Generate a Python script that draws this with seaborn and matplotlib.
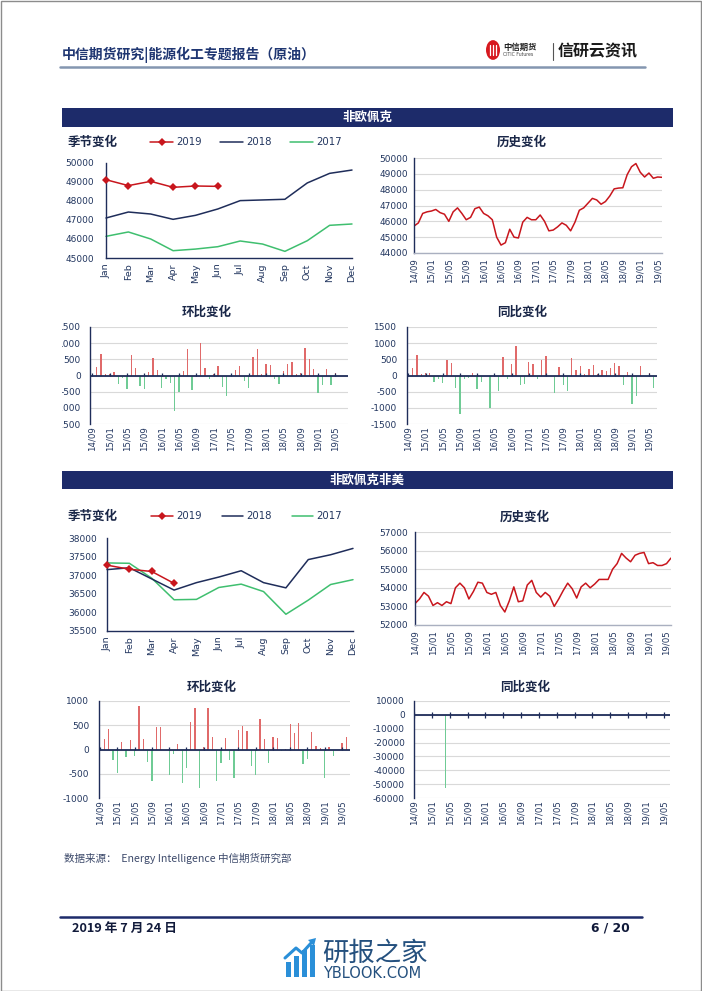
import matplotlib
matplotlib.use("Agg")
import matplotlib.pyplot as plt
import numpy as np
import seaborn as sns
from matplotlib.lines import Line2D
from matplotlib.patches import Rectangle, Circle, Polygon

W, H = 702, 991

MONTHS = ["Jan", "Feb", "Mar", "Apr", "May", "Jun",
          "Jul", "Aug", "Sep", "Oct", "Nov", "Dec"]
DATE_LABELS = ["14/09", "15/01", "15/05", "15/09", "16/01", "16/05", "16/09", "17/01",
               "17/05", "17/09", "18/01", "18/05", "18/09", "19/01", "19/05"]
YEARS = ["2019", "2018", "2017"]

# 非欧佩克
nonopec_2019 = [49120, 48810, 49035, 48720, 48790, 48770]
nonopec_2018 = [47105, 47420, 47315, 47035, 47245, 47580, 48020, 48055, 48090, 48950, 49455, 49630]
nonopec_2017 = [46140, 46370, 46000, 45385, 45470, 45595, 45895, 45735, 45350, 45910, 46720, 46790]
nonopec_hist = [45700, 45900, 46500, 46600, 46650, 46750, 46550, 46450, 46000, 46600,
                46850, 46500, 46100, 46250, 46800, 46900, 46500, 46350, 46100, 45000,
                44500, 44650, 45500, 45000, 44950, 45950, 46250, 46100, 46100, 46400,
                46000, 45400, 45450, 45650, 45900, 45750, 45400, 45950, 46700, 46850,
                47150, 47450, 47350, 47080, 47250, 47600, 48050, 48100, 48120, 48950,
                49450, 49650, 49100, 48800, 49050, 48720, 48800, 48780]
nonopec_mom = [0, 250, 650, 50, 60, 100, -250, -80, -430, 620,
               230, -330, -420, 110, 550, 160, -400, -110, -230, -1100,
               -520, 130, 830, -450, -60, 1020, 230, -120, 60, 280,
               -350, -620, 50, 170, 280, -170, -380, 560, 810, 50,
               350, 330, -100, -270, 150, 360, 430, 40, 80, 840,
               510, 190, -530, -280, 190, -300, 80, -20]
nonopec_yoy = [0, 220, 620, 50, 80, 80, -200, -100, -230, 470,
               380, -400, -1180, -120, -80, 70, -430, -200, 0, -1000,
               60, -480, 580, -120, 370, 900, -280, -260, 420, 370,
               -100, 470, 600, 0, -550, 250, -300, -470, 550, 160,
               300, 60, 200, 330, 60, 180, 150, 230, 390, 280,
               -300, 100, -870, -620, 300, 0, 80, -380]

# 非欧佩克非美
nonus_2019 = [37270, 37160, 37100, 36780]
nonus_2018 = [37150, 37200, 36900, 36600, 36800, 36950, 37120, 36800, 36660, 37420, 37550, 37720]
nonus_2017 = [37330, 37320, 36920, 36340, 36350, 36670, 36760, 36560, 35950, 36330, 36750, 36880]
nonus_hist = [53150, 53400, 53750, 53550, 53050, 53200, 53050, 53250, 53150, 54000,
              54250, 54000, 53400, 53800, 54300, 54250, 53750, 53650, 53750, 53050,
              52700, 53300, 54050, 53250, 53300, 54150, 54400, 53750, 53500, 53750,
              53550, 53000, 53400, 53850, 54250, 53950, 53450, 54050, 54250, 54000,
              54200, 54450, 54450, 54450, 55000, 55300, 55850, 55600, 55400, 55750,
              55850, 55900, 55300, 55350, 55200, 55200, 55300, 55600]
nonus_mom = [0, 210, 420, -210, -490, 160, -150, 190, -130, 900,
             210, -250, -650, 460, 470, 0, -520, -100, 110, -700,
             -380, 560, 860, -800, 50, 850, 260, -640, -270, 240,
             -220, -580, 400, 490, 390, -330, -530, 630, 210, -280,
             250, 230, -40, 20, 520, 330, 550, -300, -190, 370,
             70, 40, -590, 50, -140, -20, 140, 250]
nonus_yoy = [0, 0, 0, 0, 0, 0, 0, -52900, 0, 0,
             0, 0, 0, 0, 0, 0, 0, 0, 0, 0,
             0, 0, 0, 0, 0, 0, 0, 0, 0, 0,
             0, 0, 0, 0, 0, 0, 0, 0, 0, 0,
             0, 0, 0, 0, 0, 0, 0, 0, 0, 0,
             0, 0, 0, 0, 0, 0, 0, 0]

NAVY = "#1f2d5a"
TICK = "#22365f"
BAR_NAVY = "#1d2b6a"
RED = "#c8161d"
GREEN = "#3fbf6f"
POS = "#e06a6a"
NEG = "#6fcb95"
GRID = "#d9d9d9"
CJK = ["Noto Sans CJK SC", "DejaVu Sans"]

sns.set_style("white")
plt.rcParams["font.family"] = ["DejaVu Sans", "Noto Sans CJK SC"]


def fx(x):
    return x / W


def fy(y):
    return 1 - y / H


def px_axes(fig, x0, y0, x1, y1):
    return fig.add_axes([x0 / W, 1 - y1 / H, (x1 - x0) / W, (y1 - y0) / H])


def style_axes(ax, yticks, grid, bottom, ypad):
    ax.set_ylim(yticks[0], yticks[-1])
    ax.set_yticks(yticks)
    ax.set_yticklabels([f"{v:d}" for v in yticks])
    ax.set_facecolor("none")
    for s in ["top", "right"]:
        ax.spines[s].set_visible(False)
    ax.spines["left"].set_color(NAVY)
    ax.spines["left"].set_linewidth(1.0)
    ax.spines["bottom"].set_visible(bottom)
    ax.spines["bottom"].set_color(NAVY)
    ax.spines["bottom"].set_linewidth(1.0)
    ax.tick_params(axis="both", labelcolor=TICK, labelsize=6.5, length=2.5, width=0.8,
                   color=NAVY, pad=1.5, direction="out")
    ax.tick_params(axis="y", pad=ypad)
    ax.set_xlabel("")
    ax.set_ylabel("")
    if grid:
        ax.grid(axis="y", color=GRID, linewidth=0.8)
        ax.set_axisbelow(True)


def date_axis(ax, n):
    ax.set_xticks(np.arange(0, n, 4))
    ax.set_xticklabels(DATE_LABELS, rotation=90, fontsize=6.2)


def seasonal_panel(fig, rect, s19, s18, s17, yticks, ypad):
    ax = px_axes(fig, *rect)
    sns.lineplot(x=np.arange(len(s17)), y=s17, color=GREEN, linewidth=1.1, clip_on=False, ax=ax)
    sns.lineplot(x=np.arange(len(s18)), y=s18, color=NAVY, linewidth=1.1, clip_on=False, ax=ax)
    sns.lineplot(x=np.arange(len(s19)), y=s19, color=RED, linewidth=1.1, marker="D",
                 markersize=4.5, markeredgewidth=0, clip_on=False, zorder=5, ax=ax)
    style_axes(ax, yticks, grid=False, bottom=True, ypad=ypad)
    ax.set_xlim(0, 11)
    ax.set_xticks(np.arange(12))
    ax.set_xticklabels(MONTHS, rotation=90, fontsize=6.8)
    return ax


def history_panel(fig, rect, values, yticks, ypad):
    ax = px_axes(fig, *rect)
    sns.lineplot(x=np.arange(len(values)), y=values, color=RED, linewidth=1.1, ax=ax)
    style_axes(ax, yticks, grid=True, bottom=True, ypad=ypad)
    ax.spines["bottom"].set_color("#aab0c0")
    ax.set_xlim(0, len(values) - 1)
    date_axis(ax, len(values))
    return ax


def bar_panel(fig, rect, values, yticks, xlim, ypad, cross=False):
    ax = px_axes(fig, *rect)
    idx = np.arange(len(values))
    sign = np.where(np.array(values) >= 0, "up", "down")
    sns.barplot(x=idx, y=values, hue=sign, hue_order=["up", "down"],
                palette={"up": POS, "down": NEG}, dodge=False, width=0.3,
                native_scale=True, saturation=1, errorbar=None, legend=False,
                linewidth=0, ax=ax)
    style_axes(ax, yticks, grid=True, bottom=False, ypad=ypad)
    ax.axhline(0, color=NAVY, linewidth=1.3, zorder=3)
    stub = (yticks[-1] - yticks[0]) * 0.03
    ticks = np.arange(0, len(values), 4)
    ax.vlines(ticks, -stub if cross else 0, stub, color=NAVY, linewidth=0.9, zorder=4)
    ax.set_xlim(*xlim)
    date_axis(ax, len(values))
    ax.tick_params(axis="x", length=0)
    return ax


def panel_title(fig, x, y, text, ha="center"):
    fig.text(fx(x), fy(y), text, ha=ha, va="center", fontsize=9, fontweight="bold",
             color="#1a2748", family=CJK)


def legend_row(fig, y, items):
    for x0, x1, color, marker, label in items:
        fig.add_artist(Line2D([fx(x0), fx(x1)], [fy(y), fy(y)], color=color, linewidth=1.1))
        if marker:
            fig.add_artist(Line2D([fx((x0 + x1) / 2)], [fy(y)], color=color, marker="D",
                                  markersize=4.5, markeredgewidth=0))
        fig.text(fx(x1 + 3), fy(y), label, ha="left", va="center", fontsize=7.3, color=TICK)


def section_bar(fig, y0, y1, text):
    fig.add_artist(Rectangle((fx(62), fy(y1)), fx(673) - fx(62), fy(y0) - fy(y1),
                             transform=fig.transFigure, facecolor=BAR_NAVY, edgecolor="none"))
    fig.text(fx(367), fy((y0 + y1) / 2), text, ha="center", va="center", fontsize=9,
             fontweight="bold", color="white", family=CJK)


fig = plt.figure(figsize=(W / 100, H / 100), dpi=100)
fig.patch.set_facecolor("white")

# header
fig.text(fx(62), fy(55), "中信期货研究|能源化工专题报告（原油）", ha="left", va="center",
         fontsize=10, fontweight="bold", color="#1f3672", family=CJK)
fig.add_artist(Line2D([fx(60), fx(645)], [fy(67), fy(67)], color="#8496b0", linewidth=1.8))
fig.add_artist(Circle((fx(493), fy(50)), 7 / W, transform=fig.transFigure,
                      facecolor="#d7191f", edgecolor="none"))
for dx in (-3, 0, 3):
    fig.add_artist(Line2D([fx(493 + dx), fx(493 + dx)], [fy(45), fy(55)], color="white", linewidth=0.9))
fig.text(fx(503), fy(47.5), "中信期货", ha="left", va="center", fontsize=6, fontweight="bold",
         color="#222222", family=CJK)
fig.text(fx(503), fy(54.5), "CITIC Futures", ha="left", va="center", fontsize=3.3, color="#444444")
fig.add_artist(Line2D([fx(553), fx(553)], [fy(43), fy(60)], color="#555555", linewidth=0.8))
fig.text(fx(558), fy(51), "信研云资讯", ha="left", va="center", fontsize=11.5, fontweight="bold",
         color="#1a1a1a", family=CJK)

# 非欧佩克
section_bar(fig, 108, 127, "非欧佩克")
panel_title(fig, 68, 142, "季节变化", ha="left")
legend_row(fig, 142, [(150, 173, RED, True, YEARS[0]),
                      (220, 243, NAVY, False, YEARS[1]),
                      (290, 313, GREEN, False, YEARS[2])])
seasonal_panel(fig, (106, 163, 352, 258), nonopec_2019, nonopec_2018, nonopec_2017,
               list(range(45000, 50001, 1000)), ypad=6)
panel_title(fig, 522, 142, "历史变化")
history_panel(fig, (414, 158, 662, 253), nonopec_hist, list(range(44000, 50001, 1000)), ypad=2)
panel_title(fig, 207, 312, "环比变化")
bar_panel(fig, (90, 327, 348, 424), nonopec_mom, list(range(-1500, 1501, 500)), (-0.5, 58.9), ypad=4)
panel_title(fig, 522, 312, "同比变化")
bar_panel(fig, (407, 327, 657, 424), nonopec_yoy, list(range(-1500, 1501, 500)), (-0.3, 57.8), ypad=4.5)

# 非欧佩克非美
section_bar(fig, 471, 489, "非欧佩克非美")
panel_title(fig, 68, 516, "季节变化", ha="left")
legend_row(fig, 516, [(151, 173, RED, True, YEARS[0]),
                      (222, 243, NAVY, False, YEARS[1]),
                      (292, 313, GREEN, False, YEARS[2])])
seasonal_panel(fig, (107, 538, 353, 631), nonus_2019, nonus_2018, nonus_2017,
               list(range(35500, 38001, 500)), ypad=4.5)
panel_title(fig, 525, 517, "历史变化")
history_panel(fig, (415, 532, 671, 625), nonus_hist, list(range(52000, 57001, 1000)), ypad=2.5)
panel_title(fig, 212, 687, "环比变化")
bar_panel(fig, (99, 701, 350, 798), nonus_mom, list(range(-1000, 1001, 500)), (-0.25, 57.85), ypad=4.5)
panel_title(fig, 525, 687, "同比变化")
bar_panel(fig, (414, 701, 670, 798), nonus_yoy, list(range(-60000, 10001, 10000)), (0, 57.4),
          ypad=4, cross=True)

# the first bar panel is cropped at its left edge in the report
fig.add_artist(Rectangle((fx(1.5), fy(432)), fx(62.5) - fx(1.5), fy(318) - fy(432),
                         transform=fig.transFigure, facecolor="white", edgecolor="none", zorder=5))

# source + footer
fig.text(fx(64), fy(858), "数据来源：  Energy Intelligence 中信期货研究部", ha="left", va="center",
         fontsize=7.6, color="#3d4a6b", family=CJK)
fig.add_artist(Line2D([fx(60), fx(642)], [fy(917), fy(917)], color="#1d2b6a", linewidth=1.8))
fig.text(fx(72), fy(928), "2019 年 7 月 24 日", ha="left", va="center", fontsize=9.2,
         fontweight="bold", color="#111a3a", family=CJK)
fig.text(fx(630), fy(928), "6 / 20", ha="right", va="center", fontsize=8.8,
         fontweight="bold", color="#111a3a")

# watermark
for bx, top in [(286, 962), (294, 956), (302, 950), (310, 945)]:
    fig.add_artist(Rectangle((fx(bx), fy(977)), 5 / W, fy(top) - fy(977), transform=fig.transFigure,
                             facecolor="#2a8fd8", edgecolor="none"))
fig.add_artist(Line2D([fx(285), fx(296), fx(302), fx(312)], [fy(958), fy(948), fy(953), fy(942)],
                      color="#2a8fd8", linewidth=2.2))
fig.add_artist(Polygon([(fx(308), fy(940)), (fx(316), fy(938)), (fx(314), fy(946))],
                       closed=True, transform=fig.transFigure, facecolor="#2a8fd8", edgecolor="none"))
fig.text(fx(322), fy(953), "研报之家", ha="left", va="center", fontsize=19, color="#24507e", family=CJK)
fig.text(fx(323), fy(973), "YBLOOK.COM", ha="left", va="center", fontsize=10.5, color="#24507e")

# page frame
fig.add_artist(Rectangle((0.5 / W, 0.5 / H), 1 - 1.5 / W, 1 - 1.5 / H, transform=fig.transFigure,
                         facecolor="none", edgecolor="#8c8c8c", linewidth=1.0, zorder=6))

fig.savefig("out.png", dpi=100)
